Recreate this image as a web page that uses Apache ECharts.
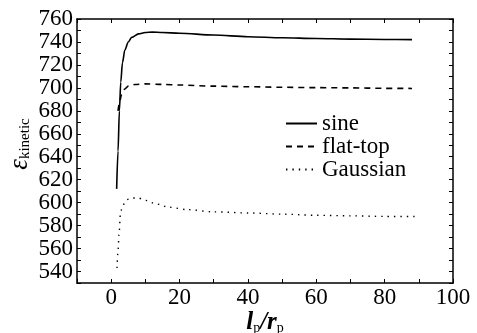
<!DOCTYPE html>
<html><head><meta charset="utf-8">
<script src="https://cdn.jsdelivr.net/npm/echarts@6/dist/echarts.min.js"></script>
<style>html,body{margin:0;padding:0;background:#fff}#c{width:477px;height:333px}</style>
</head><body><div id="c"></div>
<script>
const seriesNames = ['sine', 'flat-top', 'Gaussian'];
const sineData = [[1.6,612],[2,645],[2.4,680],[2.8,705],[3.3,722],[4,733],[5,740],[6,744],[8,747],[10,748.3],[12,748.6],[15,748.3],[20,747.6],[30,746],[40,744.6],[50,743.6],[60,743],[70,742.5],[80,742.2],[88,742]];
const flatTopData = [[2,680],[2.5,688],[3,694],[4,699],[5,701.5],[7,703],[10,703.5],[15,703],[20,702.5],[30,701.5],[40,701],[50,700.5],[60,700.2],[70,700],[80,699.6],[88,699.5]];
const gaussianData = [[1.7,543],[2,558],[2.3,572],[2.7,590],[3.2,596],[4,600],[5,603],[6,604],[8,604],[10,602],[13,599],[17,596],[22,594],[30,592],[40,591],[50,590],[60,589],[70,588.5],[80,588],[90,588]];
const xLabelValues = [0,20,40,60,80,100];
const yLabelValues = [540,560,580,600,620,640,660,680,700,720,740,760];
const xRange = [-10,100];
const yRange = [530,760];
const tickStep = 10;

const serif = 'Liberation Serif';
const axisCommon = {
  axisLine:{show:true,onZero:false,lineStyle:{color:'#000',width:1.5}},
  axisTick:{show:true,inside:true,length:4,lineStyle:{color:'#000',width:1}},
  splitLine:{show:false}
};
const chart = echarts.init(document.getElementById('c'));
chart.setOption({
  animation:false,
  backgroundColor:'#fff',
  grid:{left:77,right:24,top:19,bottom:50,outerBoundsMode:'none',containLabel:false},
  legend:{
    orient:'vertical', left:285, top:112, padding:0, itemGap:0, itemWidth:31, itemHeight:14,
    data:seriesNames, itemStyle:{opacity:0},
    textStyle:{fontFamily:serif,fontSize:23,color:'#000',lineHeight:22.5}
  },
  xAxis:[
    Object.assign({type:'value',min:xRange[0],max:xRange[1],interval:tickStep,position:'bottom',
      axisLabel:{fontFamily:serif,fontSize:23,color:'#000',margin:3,
        formatter:v=>xLabelValues.includes(v)?String(v):''},
      name:'{i|l}{s|p}{i|/r}{s|p}', nameLocation:'middle', nameGap:27, nameMoveOverlap:false,
      nameTextStyle:{rich:{i:{fontFamily:serif,fontSize:25,fontStyle:'italic',fontWeight:'bold',color:'#000'},
                         s:{fontFamily:serif,fontSize:14,color:'#000',verticalAlign:'bottom',padding:[10,0,0,0]}}}
    },axisCommon),
    Object.assign({type:'value',min:xRange[0],max:xRange[1],interval:tickStep,position:'top',axisLabel:{show:false}},axisCommon)
  ],
  yAxis:[
    Object.assign({type:'value',min:yRange[0],max:yRange[1],interval:tickStep,position:'left',
      axisLabel:{fontFamily:serif,fontSize:23,color:'#000',margin:4,
        formatter:v=>yLabelValues.includes(v)?String(v):''},
      name:'{e|ε}{s|kinetic}', nameLocation:'middle', nameGap:44, nameRotate:90, nameMoveOverlap:false,
      nameTextStyle:{padding:[0,0,0,14],rich:{e:{fontFamily:serif,fontSize:27,fontStyle:'italic',color:'#000'},
                         s:{fontFamily:serif,fontSize:15,color:'#000',verticalAlign:'bottom',padding:[12,0,0,0]}}}
    },axisCommon),
    Object.assign({type:'value',min:yRange[0],max:yRange[1],interval:tickStep,position:'right',axisLabel:{show:false}},axisCommon)
  ],
  series:[
    {name:seriesNames[0],type:'line',data:sineData,symbol:'none',smooth:0.3,smoothMonotone:'x',
      lineStyle:{color:'#000',width:1.6,type:'solid'},itemStyle:{color:'#000'}},
    {name:seriesNames[1],type:'line',data:flatTopData,symbol:'none',smooth:0.3,smoothMonotone:'x',
      lineStyle:{color:'#000',width:1.6,type:[6,5]},itemStyle:{color:'#000'}},
    {name:seriesNames[2],type:'line',data:gaussianData,symbol:'none',smooth:0.3,smoothMonotone:'x',
      lineStyle:{color:'#000',width:1.4,type:[1.4,5]},itemStyle:{color:'#000'}}
  ]
});
</script></body></html>
